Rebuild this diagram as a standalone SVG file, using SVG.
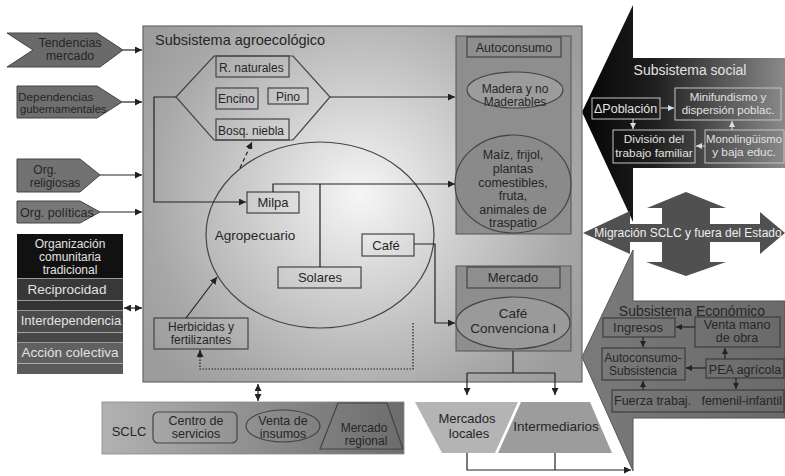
<svg xmlns="http://www.w3.org/2000/svg" width="785" height="476" viewBox="0 0 785 476">
<defs>
<radialGradient id="gMain" gradientUnits="userSpaceOnUse" cx="360" cy="195" r="260">
<stop offset="0" stop-color="#f6f6f6"/><stop offset="0.45" stop-color="#cacaca"/><stop offset="0.8" stop-color="#a8a8a8"/><stop offset="1" stop-color="#9c9c9c"/>
</radialGradient>
<linearGradient id="gSocial" x1="0" y1="0" x2="1" y2="0">
<stop offset="0" stop-color="#050505"/><stop offset="0.35" stop-color="#1e1e1e"/><stop offset="1" stop-color="#8a8a8a"/>
</linearGradient>
<linearGradient id="gSclc" x1="0" y1="0" x2="1" y2="0">
<stop offset="0" stop-color="#b2b2b2"/><stop offset="1" stop-color="#6c6c6c"/>
</linearGradient>
<linearGradient id="gEcon" x1="0" y1="0" x2="1" y2="0">
<stop offset="0" stop-color="#7a7a7a"/><stop offset="1" stop-color="#6a6a6a"/>
</linearGradient>
<marker id="ah" viewBox="0 0 10 10" refX="10" refY="5" markerUnits="userSpaceOnUse" markerWidth="7" markerHeight="7" orient="auto-start-reverse"><path d="M0,0 L10,5 L0,10 z" fill="#222"/></marker>
<marker id="ahw" viewBox="0 0 10 10" refX="10" refY="5" markerUnits="userSpaceOnUse" markerWidth="6" markerHeight="6" orient="auto-start-reverse"><path d="M0,0 L10,5 L0,10 z" fill="#ddd"/></marker>
<marker id="ahd" viewBox="0 0 10 10" refX="10" refY="5" markerUnits="userSpaceOnUse" markerWidth="6" markerHeight="6" orient="auto-start-reverse"><path d="M0,0 L10,5 L0,10 z" fill="#222"/></marker>
<style>
text{font-family:"Liberation Sans",Arial,sans-serif;fill:#262626;}
.c{text-anchor:middle;}
.b{fill:none;stroke:#444;stroke-width:1.2;}
.bl{fill:none;stroke:#333;stroke-width:1;}
.ln{fill:none;stroke:#222;stroke-width:1.2;}
.lw{fill:none;stroke:#ddd;stroke-width:1;}
.t13{font-size:13px;}
.t12{font-size:12px;}
.w{fill:#e2e2e2;}
.wb{fill:none;stroke:#c4c4c4;stroke-width:1;}
.lft{stroke:#444;stroke-width:1;}
</style>
</defs>

<g id="social">
<polygon points="582,112 633,5 633,58 785,58 785,168 633,168 633,222" fill="url(#gSocial)"/>
<text class="c w" x="690" y="75" style="font-size:14px">Subsistema  social</text>
<rect class="wb" x="592" y="98" width="68" height="21"/>
<text class="w" x="594" y="113" style="font-size:12.5px">ΔPoblación</text>
<rect class="wb" x="675" y="88" width="106" height="32"/>
<text class="c w" x="728" y="101" style="font-size:11.5px">Minifundismo y</text>
<text class="c w" x="728" y="114" style="font-size:11.5px">dispersión poblac.</text>
<rect class="wb" x="613" y="130" width="82" height="33"/>
<text class="c w" x="654" y="143" style="font-size:11.8px">División del</text>
<text class="c w" x="654" y="157" style="font-size:11.8px">trabajo familiar</text>
<rect class="wb" x="705" y="130" width="79" height="33"/>
<text class="c w" x="744" y="143" style="font-size:11.3px">Monolingüismo</text>
<text class="c w" x="744" y="156" style="font-size:11.8px">y baja educ.</text>
<path class="lw" d="M661,108 H674" marker-end="url(#ahw)"/>
<path class="lw" d="M633,119 V129" marker-end="url(#ahw)"/>
<path class="lw" d="M732,130 V121" marker-end="url(#ahw)"/>
<path class="lw" d="M705,146 H696" marker-end="url(#ahw)"/>
</g>

<g id="economico">
<polygon points="582,357 633,250 633,301 785,301 785,418 633,418 633,471" fill="url(#gEcon)" stroke="#555" stroke-width="1"/>
<text class="c" x="692" y="316" style="font-size:14px">Subsistema Económico</text>
<rect class="bl" x="603" y="318" width="72" height="19"/>
<text class="c t13" x="638" y="332">Ingresos</text>
<rect class="bl" x="695" y="317" width="85" height="30"/>
<text class="c" x="737" y="329" style="font-size:12.5px">Venta mano</text>
<text class="c" x="737" y="341.5" style="font-size:12.5px">de obra</text>
<rect class="bl" x="602" y="348" width="83" height="32"/>
<text class="c t12" x="643" y="362">Autoconsumo-</text>
<text class="c t12" x="643" y="375">Subsistencia</text>
<rect class="bl" x="706" y="359" width="78" height="19"/>
<text class="c" x="745" y="373.5" style="font-size:12.5px">PEA agrícola</text>
<rect class="bl" x="612" y="390" width="172" height="22"/>
<text x="614" y="405" style="font-size:12.5px">Fuerza trabaj.<tspan x="782" text-anchor="end">femenil-infantil</tspan></text>
<path class="ln" d="M695,327 H676" marker-end="url(#ahd)"/>
<path class="ln" d="M643,337 V347" marker-end="url(#ahd)"/>
<path class="ln" d="M725,359 V348" marker-end="url(#ahd)"/>
<path class="ln" d="M706,368 H686" marker-end="url(#ahd)"/>
<path class="ln" d="M736,378 V389" marker-end="url(#ahd)"/>
<path class="ln" d="M643,390 V381" marker-end="url(#ahd)"/>
</g>

<g id="migracion">
<polygon points="583,233 630,211 630,224 662,224 662,208 647,208 686,192 726,208 710,208 710,224 760,224 760,212 785,233 760,254 760,242 710,242 710,262 726,262 686,276 646,262 662,262 662,242 630,242 630,254" fill="#505050"/>
<text class="c" x="688" y="237" style="font-size:12px;fill:#eee">Migración SCLC y fuera del Estado</text>
</g>

<g id="agroecologico">
<rect x="143" y="26" width="439" height="356" fill="url(#gMain)" stroke="#666" stroke-width="1.2"/>
<text x="155" y="45" style="font-size:14.5px">Subsistema agroecológico</text>
</g>

<g id="recursos">
<polygon class="b" points="176,97 214,56 293,56 330,97 293,140 214,140"/>
<rect class="b" x="216" y="56" width="73" height="21"/>
<text class="t12" x="219" y="72">R. naturales</text>
<rect class="b" x="216" y="88" width="42" height="21"/>
<text class="t12" x="218" y="103">Encino</text>
<rect class="b" x="268" y="88" width="40" height="16"/>
<text class="c t12" x="288" y="101">Pino</text>
<rect class="b" x="216" y="119" width="73" height="21"/>
<text class="t12" x="218" y="135">Bosq. niebla</text>
</g>

<g id="agropecuario">
<ellipse class="b" cx="320" cy="235" rx="114" ry="93"/>
<text class="c" x="255" y="240" style="font-size:13.5px">Agropecuario</text>
</g>
<g id="milpa"><rect class="b" x="247" y="192" width="52" height="21"/><text class="c t13" x="273" y="207">Milpa</text></g>
<g id="solares"><rect class="b" x="278" y="267" width="83" height="21"/><text class="c t13" x="320" y="282">Solares</text></g>
<g id="cafe"><rect class="b" x="362" y="234" width="52" height="22"/><text class="c t13" x="386" y="250">Café</text></g>
<g id="herbicidas"><rect class="b" x="154" y="318" width="94" height="31"/><text class="c t12" x="201" y="331">Herbicidas y</text><text class="c t12" x="201" y="344">fertilizantes</text></g>

<g id="autoconsumo">
<rect x="456" y="36" width="115" height="198" fill="#8e8e8e" stroke="#555" stroke-width="1"/>
<rect class="b" x="467" y="37" width="94" height="20"/>
<text class="c" x="514" y="52" style="font-size:12.5px">Autoconsumo</text>
<ellipse cx="515" cy="90" rx="48" ry="18" fill="#9c9c9c" stroke="#444" stroke-width="1.2"/>
<text class="c" x="515" y="93" style="font-size:12px">Madera y no</text>
<text class="c" x="515" y="106" style="font-size:12px">Maderables</text>
<ellipse cx="513" cy="184" rx="58" ry="49" fill="#8a8a8a" stroke="#444" stroke-width="1.2"/>
<text class="c" x="513" y="159" style="font-size:12.5px">Maíz, frijol,</text>
<text class="c" x="513" y="173" style="font-size:12.5px">plantas</text>
<text class="c" x="513" y="187" style="font-size:12.5px">comestibles,</text>
<text class="c" x="513" y="200" style="font-size:12.5px">fruta,</text>
<text class="c" x="513" y="214" style="font-size:12.5px">animales de</text>
<text class="c" x="513" y="227" style="font-size:12.5px">traspatio</text>
</g>

<g id="mercado">
<rect x="456" y="266" width="115" height="85" fill="#8e8e8e" stroke="#555" stroke-width="1"/>
<rect class="b" x="467" y="267" width="93" height="21"/>
<text class="c t13" x="513" y="282">Mercado</text>
<ellipse cx="513" cy="323" rx="57" ry="26" fill="#9a9a9a" stroke="#444" stroke-width="1.2"/>
<text class="c" x="513" y="318" style="font-size:13.5px">Café</text>
<text class="c" x="513" y="333" style="font-size:13.5px">Convenciona l</text>
</g>

<g id="tendencias">
<polygon points="7,33 97,33 123,50 100,67 7,67 33,50" fill="#6a6a6a" class="lft"/>
<text class="c" x="70" y="47" style="font-size:12.5px">Tendencias</text>
<text class="c" x="70" y="60" style="font-size:12.5px">mercado</text>
</g>
<g id="dependencias">
<polygon points="17,86 97,86 122,102 97,118 17,118" fill="#6e6e6e" class="lft"/>
<text x="18" y="101" style="font-size:11.8px">Dependencias</text>
<text x="20" y="113" style="font-size:11.2px">gubernamentales</text>
</g>
<g id="religiosas">
<polygon points="17,159 80,159 100,175 80,192 17,192" fill="#727272" class="lft"/>
<text class="c" x="45" y="174" style="font-size:12px">Org.</text>
<text class="c" x="55" y="187" style="font-size:12px">religiosas</text>
</g>
<g id="politicas">
<polygon points="17,201 80,201 100,212 80,223 17,223" fill="#777" class="lft"/>
<text x="20" y="216.5" style="font-size:12.5px">Org. políticas</text>
</g>

<g id="organizacion">
<rect x="17" y="234" width="106" height="44" fill="#111"/>
<rect x="17" y="279" width="106" height="21" fill="#383838"/>
<rect x="17" y="300.5" width="106" height="9.5" fill="#343434"/>
<rect x="17" y="311" width="106" height="21" fill="#4c4c4c"/>
<rect x="17" y="332.5" width="106" height="9.5" fill="#474747"/>
<rect x="17" y="343" width="106" height="20" fill="#606060"/>
<rect x="17" y="363.5" width="106" height="10.5" fill="#5a5a5a"/>
<path d="M17,278.5 H123 M17,310.5 H123 M17,342.5 H123" stroke="#9a9a9a" stroke-width="1"/>
<text class="c w" x="70" y="248" style="font-size:12px">Organización</text>
<text class="c w" x="70" y="261" style="font-size:12px">comunitaria</text>
<text class="c w" x="70" y="274" style="font-size:12px">tradicional</text>
<text class="c w" x="67" y="294" style="font-size:13.5px">Reciprocidad</text>
<text class="c w" x="71" y="325" style="font-size:13px">Interdependencia</text>
<text class="c w" x="70" y="357" style="font-size:13.5px">Acción colectiva</text>
</g>

<g id="sclc">
<rect x="102" y="402" width="302" height="52" fill="url(#gSclc)" stroke="#888" stroke-width="0.8"/>
<text class="c t13" x="129" y="436">SCLC</text>
<rect class="b" x="153" y="412" width="84" height="31" rx="5"/>
<text class="c" x="196" y="425" style="font-size:12.5px">Centro de</text>
<text class="c" x="196" y="438" style="font-size:12.5px">servicios</text>
<ellipse class="b" cx="283" cy="426" rx="37" ry="16"/>
<text class="c" x="283" y="425" style="font-size:12.5px">Venta de</text>
<text class="c" x="283" y="438" style="font-size:12.5px">insumos</text>
<polygon class="b" points="338,403 387,403 403,449 320,449"/>
<text class="c t12" x="364" y="432">Mercado</text>
<text class="c t12" x="366" y="445">regional</text>
</g>

<g id="mercados-locales">
<polygon points="415,402 518,402 495,453 442,453" fill="#b4b4b4"/>
<text class="c t13" x="467" y="423">Mercados</text>
<text class="c t13" x="469" y="438">locales</text>
</g>
<g id="intermediarios">
<polygon points="521,402 590,402 612,453 498,453" fill="#9c9c9c"/>
<text class="c" x="556" y="431" style="font-size:13.5px">Intermediarios</text>
</g>

<g id="connectors">
<path class="ln" d="M123,50 H142" marker-end="url(#ah)"/>
<path class="ln" d="M122,102 H142" marker-end="url(#ah)"/>
<path class="ln" d="M100,175 H142" marker-end="url(#ah)"/>
<path class="ln" d="M100,212 H142" marker-end="url(#ah)"/>
<path class="ln" d="M124,308 H142" marker-start="url(#ah)" marker-end="url(#ah)"/>
<path class="ln" d="M258,384 V401" marker-start="url(#ah)" marker-end="url(#ah)"/>
<path class="ln" d="M330,97 H455" marker-end="url(#ah)"/>
<path class="ln" d="M176,97 H154 V202 H246" marker-end="url(#ah)"/>
<path class="ln" d="M273,192 V184 H455" marker-end="url(#ah)"/>
<path class="ln" d="M320,184 V267"/>
<path class="ln" d="M240,168 L252,142" stroke-dasharray="4,3" marker-end="url(#ah)"/>
<path class="ln" d="M414,244 H435 V323 H455" marker-end="url(#ah)"/>
<path class="ln" d="M413,323 V369 H200 V350" stroke-dasharray="1.5,1.5" stroke-width="1"/>
<path class="ln" d="M200,353 V350" marker-end="url(#ah)"/>
<path class="ln" d="M186,318 L217,277" marker-end="url(#ah)"/>
<path class="ln" d="M513,351 V373 M467,373 H555"/>
<path class="ln" d="M467,373 V395" marker-end="url(#ah)"/>
<path class="ln" d="M555,373 V395" marker-end="url(#ah)"/>
<path class="ln" d="M467,453 V470 H631" marker-end="url(#ah)"/>
<path class="ln" d="M555,453 V470"/>
</g>
</svg>
